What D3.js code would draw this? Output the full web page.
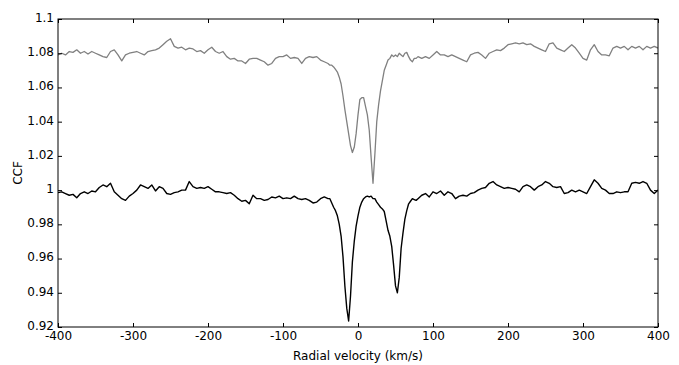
<!DOCTYPE html>
<html>
<head>
<meta charset="utf-8">
<script src="https://cdn.jsdelivr.net/npm/d3@7"></script>
<style>
  body { margin: 0; background: #fff; }
  svg { display: block; font-family: "DejaVu Sans", sans-serif; }
</style>
</head>
<body>
<div id="chart"></div>
<script>
// velocity grid: coarse wings, finer sampling through the line cores
const velLeft = d3.range(-400, -39, 5);      // -400 .. -40
const velCore = d3.range(-37.5, 80.1, 2.5);  // -37.5 .. 80
const velRight = d3.range(85, 400.1, 5);     // 85 .. 400

// gray profile (upper, offset)
const grayLeft = [
  1.079, 1.080, 1.079, 1.081, 1.0805, 1.082, 1.080, 1.081, 1.0795, 1.081,
  1.080, 1.079, 1.078, 1.0775, 1.081, 1.082, 1.079, 1.0755, 1.079, 1.080,
  1.0805, 1.081, 1.080, 1.079, 1.081, 1.0815, 1.082, 1.083, 1.085, 1.087,
  1.0885, 1.084, 1.083, 1.0835, 1.082, 1.083, 1.0825, 1.081, 1.0815, 1.080,
  1.082, 1.0835, 1.081, 1.080, 1.081, 1.078, 1.0765, 1.077, 1.0755, 1.0755,
  1.074, 1.0765, 1.077, 1.077, 1.076, 1.075, 1.073, 1.074, 1.077, 1.078,
  1.078, 1.079, 1.077, 1.0775, 1.077, 1.074, 1.077, 1.078, 1.0775, 1.078,
  1.076, 1.075, 1.074
];
const grayCore = [
  1.073, 1.073, 1.072, 1.0705, 1.069, 1.066, 1.062, 1.055, 1.047, 1.040,
  1.033, 1.026, 1.022, 1.025, 1.033, 1.044, 1.053, 1.054, 1.054, 1.049,
  1.044, 1.035, 1.019, 1.004, 1.021, 1.040, 1.050, 1.058, 1.064, 1.070,
  1.073, 1.076, 1.077, 1.079, 1.078, 1.079, 1.078, 1.080, 1.079, 1.078,
  1.080, 1.0805, 1.078, 1.076, 1.075, 1.077, 1.077, 1.078
];
const grayRight = [
  1.077, 1.078, 1.077, 1.079, 1.081, 1.079, 1.079, 1.078, 1.079, 1.078,
  1.077, 1.076, 1.075, 1.079, 1.080, 1.0805, 1.079, 1.077, 1.080, 1.081,
  1.082, 1.0815, 1.083, 1.085, 1.0855, 1.086, 1.0855, 1.086, 1.085, 1.0855,
  1.084, 1.083, 1.082, 1.081, 1.0855, 1.086, 1.083, 1.082, 1.081, 1.083,
  1.085, 1.083, 1.080, 1.077, 1.076, 1.082, 1.085, 1.081, 1.079, 1.079,
  1.0785, 1.083, 1.084, 1.083, 1.084, 1.082, 1.084, 1.083, 1.084, 1.082,
  1.084, 1.083, 1.084, 1.083
];

// black profile (lower)
const blackLeft = [
  0.9985, 0.999, 0.998, 0.997, 0.9975, 0.9955, 0.998, 0.999, 0.998, 0.9995,
  0.999, 1.0015, 1.003, 1.002, 1.004, 0.999, 0.997, 0.995, 0.994, 0.9965,
  0.998, 1.000, 1.003, 1.002, 1.001, 1.003, 0.9995, 1.002, 1.001, 0.998,
  0.9975, 0.9985, 0.999, 1.000, 1.000, 1.005, 1.002, 1.001, 1.0015, 1.001,
  1.002, 1.0005, 0.999, 0.999, 0.9985, 0.998, 0.9985, 0.997, 0.995, 0.9935,
  0.994, 0.992, 0.997, 0.995, 0.995, 0.994, 0.9945, 0.996, 0.9955, 0.9965,
  0.995, 0.9955, 0.995, 0.9965, 0.995, 0.9945, 0.995, 0.994, 0.9925, 0.993,
  0.995, 0.996, 0.995
];
const blackCore = [
  0.995, 0.9925, 0.990, 0.988, 0.985, 0.980, 0.973, 0.961, 0.944, 0.931,
  0.9235, 0.938, 0.958, 0.970, 0.979, 0.985, 0.990, 0.993, 0.995, 0.996,
  0.9965, 0.996, 0.9965, 0.995, 0.995, 0.993, 0.9915, 0.990, 0.989, 0.9875,
  0.982, 0.9765, 0.973, 0.967, 0.956, 0.944, 0.940, 0.949, 0.966, 0.975,
  0.983, 0.988, 0.992, 0.9935, 0.995, 0.9945, 0.994, 0.995
];
const blackRight = [
  0.997, 0.998, 0.996, 0.999, 0.998, 0.9995, 0.997, 0.999, 0.998, 0.995,
  0.9965, 0.997, 0.9965, 0.998, 0.9985, 1.000, 1.001, 1.0015, 1.004, 1.005,
  1.003, 1.002, 1.001, 1.0015, 1.001, 1.0005, 0.999, 1.002, 1.003, 1.002,
  1.000, 1.002, 1.003, 1.005, 1.004, 1.002, 1.0015, 1.002, 0.998, 0.9985,
  1.000, 0.999, 1.000, 0.999, 0.998, 1.002, 1.006, 1.004, 1.001, 1.000,
  0.998, 0.998, 0.999, 0.9985, 0.999, 0.999, 1.004, 1.0045, 1.004, 1.005,
  1.004, 1.000, 0.998, 1.000
];

const xTicks = [-400, -300, -200, -100, 0, 100, 200, 300, 400];
const yTicks = [0.92, 0.94, 0.96, 0.98, 1.0, 1.02, 1.04, 1.06, 1.08, 1.1];

const W = 679, H = 365;
const margin = {top: 19, right: 21, bottom: 38, left: 58};
const width = W - margin.left - margin.right;
const height = H - margin.top - margin.bottom;

function pairs(vs, ys) {
  const n = Math.min(vs.length, ys.length);
  return d3.range(n).map(i => [vs[i], ys[i]]);
}
const grayData = [].concat(pairs(velLeft, grayLeft), pairs(velCore, grayCore), pairs(velRight, grayRight));
const blackData = [].concat(pairs(velLeft, blackLeft), pairs(velCore, blackCore), pairs(velRight, blackRight));

const svg = d3.select("#chart").append("svg")
    .attr("width", W)
    .attr("height", H);

const g = svg.append("g").attr("transform", `translate(${margin.left},${margin.top})`);

const x = d3.scaleLinear().domain([-400, 400]).range([0, width]);
const y = d3.scaleLinear().domain([0.92, 1.1]).range([height, 0]);

g.append("defs").append("clipPath").attr("id", "clip")
  .append("rect").attr("width", width).attr("height", height);

const line = d3.line().x(d => x(d[0])).y(d => y(d[1]));

const plot = g.append("g").attr("clip-path", "url(#clip)");
plot.append("path").datum(grayData)
    .attr("d", line)
    .attr("fill", "none")
    .attr("stroke", "#808080")
    .attr("stroke-width", 1.3)
    .attr("stroke-linejoin", "round");
plot.append("path").datum(blackData)
    .attr("d", line)
    .attr("fill", "none")
    .attr("stroke", "#000")
    .attr("stroke-width", 1.4)
    .attr("stroke-linejoin", "round");

// inward ticks on all four sides
const fmtY = d => String(+d.toFixed(2));
const xb = g.append("g").attr("transform", `translate(0,${height})`)
    .call(d3.axisBottom(x).tickValues(xTicks).tickSizeInner(-4).tickSizeOuter(0).tickPadding(4).tickFormat(d => String(d)));
const yl = g.append("g")
    .call(d3.axisLeft(y).tickValues(yTicks).tickSizeInner(-4).tickSizeOuter(0).tickPadding(4).tickFormat(fmtY));
g.append("g")
    .call(d3.axisTop(x).tickValues(xTicks).tickSizeInner(-4).tickSizeOuter(0).tickFormat(""));
g.append("g").attr("transform", `translate(${width},0)`)
    .call(d3.axisRight(y).tickValues(yTicks).tickSizeInner(-4).tickSizeOuter(0).tickFormat(""));

g.selectAll(".domain").remove();
g.selectAll(".tick line").attr("stroke", "#000");
g.selectAll(".tick text").attr("fill", "#000").attr("font-size", 12).attr("font-family", "DejaVu Sans, sans-serif");
yl.selectAll(".tick text").attr("dy", "0.2em");

g.append("rect")
    .attr("width", width)
    .attr("height", height)
    .attr("fill", "none")
    .attr("stroke", "#000")
    .attr("stroke-width", 1);

svg.append("text")
    .attr("x", margin.left + width / 2)
    .attr("y", 360)
    .attr("text-anchor", "middle")
    .attr("font-size", 12)
    .text("Radial velocity (km/s)");

svg.append("text")
    .attr("transform", `translate(22,${margin.top + y(1.01)}) rotate(-90)`)
    .attr("text-anchor", "middle")
    .attr("font-size", 12)
    .text("CCF");
</script>
</body>
</html>
